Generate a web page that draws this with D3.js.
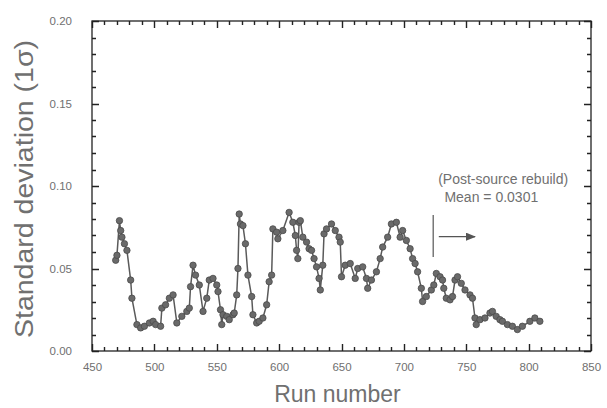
<!DOCTYPE html>
<html>
<head>
<meta charset="utf-8">
<script src="https://cdn.jsdelivr.net/npm/d3@7"></script>
<style>
  html, body { margin: 0; padding: 0; background: #fff; }
  svg { display: block; font-family: "Liberation Sans", Arial, sans-serif; }
</style>
</head>
<body>
<div id="chart"></div>
<script>
// run numbers and 1-sigma standard deviation
const runs = [469,470,472,473,474,476,478,481,482,486,489,492,496,499,501,505,506,509,512,515,
  518,522,526,528,529,531,533,536,539,542,544,547,550,551,553,554,555,558,560,563,
  564,566,567,568,569,571,573,575,578,579,582,584,587,590,592,594,595,598,599,603,
  608,611,613,614,615,616,617,619,622,624,626,628,630,632,633,635,636,638,642,645,
  648,649,650,653,657,661,663,667,670,671,674,678,681,683,687,690,694,697,699,702,
  705,707,709,711,714,715,718,722,724,726,729,731,732,734,737,739,741,743,746,749,
  753,755,757,758,761,765,769,771,774,777,779,783,787,791,795,801,805,809]
const sigma = [0.055,0.058,0.079,0.073,0.069,0.065,0.061,0.043,0.032,0.016,0.014,0.015,0.017,0.018,0.016,0.015,0.026,0.028,0.032,0.034,
  0.017,0.021,0.024,0.026,0.039,0.052,0.046,0.040,0.024,0.032,0.043,0.044,0.040,0.036,0.025,0.016,0.022,0.021,0.019,0.022,
  0.023,0.034,0.050,0.083,0.077,0.076,0.065,0.046,0.033,0.022,0.017,0.018,0.020,0.028,0.042,0.046,0.074,0.072,0.068,0.073,
  0.084,0.078,0.070,0.061,0.056,0.078,0.079,0.069,0.066,0.062,0.061,0.056,0.051,0.044,0.037,0.052,0.071,0.074,0.077,0.073,
  0.069,0.066,0.045,0.052,0.053,0.044,0.050,0.051,0.044,0.038,0.043,0.048,0.056,0.063,0.069,0.077,0.078,0.069,0.073,0.067,
  0.062,0.056,0.053,0.048,0.038,0.030,0.033,0.037,0.040,0.047,0.045,0.043,0.038,0.032,0.031,0.033,0.043,0.045,0.041,0.037,
  0.034,0.032,0.020,0.016,0.019,0.020,0.023,0.024,0.021,0.019,0.018,0.016,0.015,0.013,0.015,0.018,0.020,0.018]

const xTicks = [450, 500, 550, 600, 650, 700, 750, 800, 850]
const yTicks = [0.00, 0.05, 0.10, 0.15, 0.20]

// annotation: rebuild marker and arrow
const rebuildRun = 723.5
const rebuildSpan = [0.057, 0.0825]
const arrowRuns = [728, 757]
const arrowLevel = 0.0693
const noteLines = ["(Post-source rebuild)", "Mean = 0.0301"]

const width = 607, height = 408
const margin = { top: 21, right: 16, bottom: 57, left: 92 }
const innerW = width - margin.left - margin.right
const innerH = height - margin.top - margin.bottom

const x = d3.scaleLinear().domain([450, 850]).range([0, innerW])
const y = d3.scaleLinear().domain([0, 0.2]).range([innerH, 0])

const svg = d3.select("#chart").append("svg")
  .attr("width", width).attr("height", height)

const g = svg.append("g").attr("transform", `translate(${margin.left},${margin.top})`)

const axisColor = "#222"
const textColor = "#707070"

const minorX = d3.range(460, 850, 10).filter(v => v % 50)
const minorY = d3.range(1, 20).filter(i => i % 5).map(i => i / 100)

// tick labels via d3 axes
g.append("g").attr("transform", `translate(0,${innerH})`)
  .call(d3.axisBottom(x).tickValues(xTicks).tickFormat(d3.format("d")).tickSize(0).tickPadding(12))
  .call(a => a.select(".domain").remove())
  .call(a => a.selectAll("text").attr("fill", textColor).attr("font-size", 11.5)
    .attr("font-family", "'Liberation Sans', Arial, sans-serif"))
g.append("g")
  .call(d3.axisLeft(y).tickValues(yTicks).tickFormat(d3.format(".2f")).tickSize(0).tickPadding(20))
  .call(a => a.select(".domain").remove())
  .call(a => a.selectAll("text").attr("fill", textColor).attr("font-size", 11.5)
    .attr("font-family", "'Liberation Sans', Arial, sans-serif"))

// inward ticks on all four sides, as one path
const xt = xTicks.map(v => [v, 7]).concat(minorX.map(v => [v, 4]))
const yt = yTicks.map(v => [v, 7]).concat(minorY.map(v => [v, 4]))
let tickPath = ""
xt.forEach(([v, len]) => {
  const px = Math.round(x(v)) + 0.5
  tickPath += `M${px},${innerH}V${innerH - len}M${px},0V${len}`
})
yt.forEach(([v, len]) => {
  const py = Math.round(y(v)) + 0.5
  tickPath += `M0,${py}H${len}M${innerW},${py}H${innerW - len}`
})
g.append("path")
  .attr("d", tickPath)
  .attr("fill", "none")
  .attr("stroke", axisColor)
  .attr("stroke-width", 1.4)

// frame
g.append("rect")
  .attr("width", innerW).attr("height", innerH)
  .attr("fill", "none").attr("stroke", axisColor).attr("stroke-width", 1.3)

// data line + markers
const pts = runs.map((r, i) => [r, sigma[i]])
g.append("path")
  .datum(pts)
  .attr("fill", "none")
  .attr("stroke", "#5a5a5a")
  .attr("stroke-width", 1.5)
  .attr("d", d3.line().x(d => x(d[0])).y(d => y(d[1])))

g.selectAll("circle.pt").data(pts).join("circle")
  .attr("class", "pt")
  .attr("cx", d => x(d[0]))
  .attr("cy", d => y(d[1]))
  .attr("r", 3.2)
  .attr("fill", "#6a6a6a")
  .attr("stroke", "#4a4a4a")
  .attr("stroke-width", 0.8)

// rebuild marker
g.append("line")
  .attr("x1", x(rebuildRun)).attr("x2", x(rebuildRun))
  .attr("y1", y(rebuildSpan[1])).attr("y2", y(rebuildSpan[0]))
  .attr("stroke", "#555").attr("stroke-width", 1.2)

svg.append("defs").append("marker")
  .attr("id", "arrow").attr("viewBox", "0 0 10 8")
  .attr("refX", 9).attr("refY", 4)
  .attr("markerWidth", 10).attr("markerHeight", 8)
  .attr("markerUnits", "userSpaceOnUse")
  .attr("orient", "auto")
  .append("path").attr("d", "M0,0L10,4L0,8Z").attr("fill", "#555")

g.append("line")
  .attr("x1", x(arrowRuns[0])).attr("x2", x(arrowRuns[1]))
  .attr("y1", y(arrowLevel)).attr("y2", y(arrowLevel))
  .attr("stroke", "#555").attr("stroke-width", 1.4)
  .attr("marker-end", "url(#arrow)")

g.append("text")
  .attr("x", x(727.5)).attr("y", y(0.101))
  .attr("font-size", 14).attr("fill", textColor)
  .text(noteLines[0])
g.append("text")
  .attr("x", x(732.5)).attr("y", y(0.0905))
  .attr("font-size", 14).attr("fill", textColor)
  .text(noteLines[1])

// axis titles
svg.append("text")
  .attr("x", margin.left + innerW / 2 - 4)
  .attr("y", 402)
  .attr("text-anchor", "middle")
  .attr("font-size", 23)
  .attr("fill", textColor)
  .text("Run number")

svg.append("text")
  .attr("transform", `translate(33,${margin.top + innerH / 2 + 3}) rotate(-90)`)
  .attr("text-anchor", "middle")
  .attr("font-size", 25)
  .attr("fill", textColor)
  .attr("textLength", 298)
  .attr("lengthAdjust", "spacingAndGlyphs")
  .text("Standard deviation (1σ)")
</script>
</body>
</html>
